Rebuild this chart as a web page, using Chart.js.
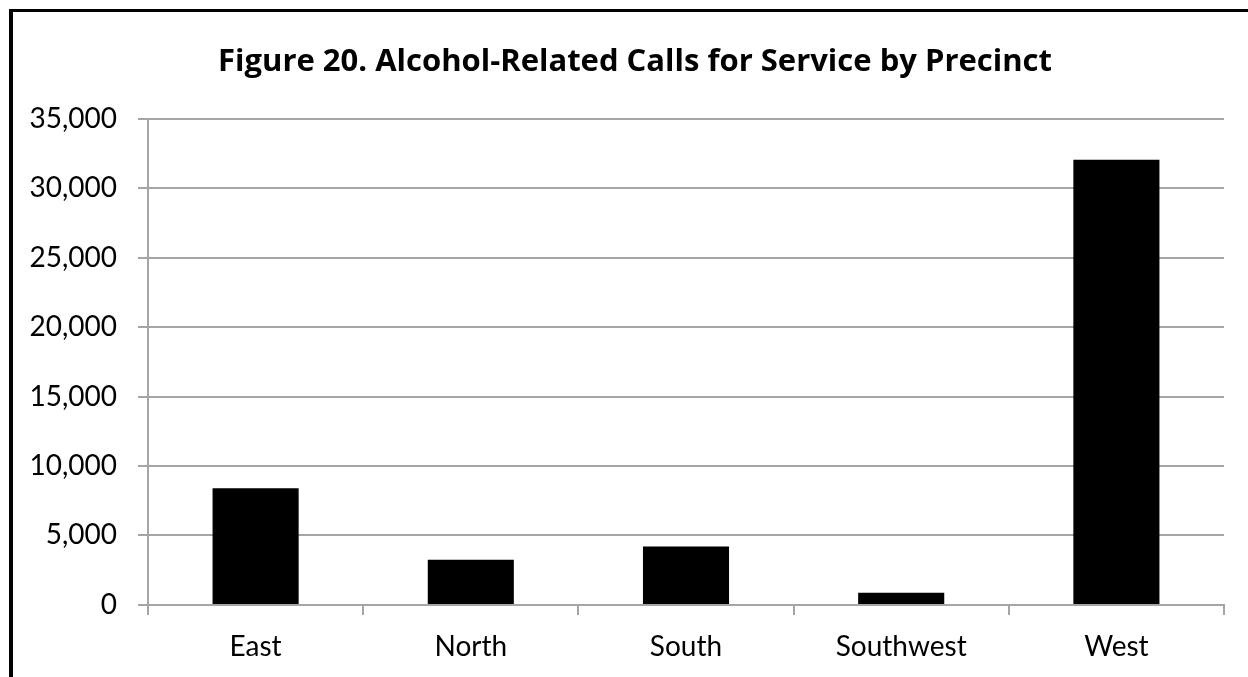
<!DOCTYPE html>
<html>
<head>
<meta charset="utf-8">
<script src="https://cdn.jsdelivr.net/npm/chart.js@4"></script>
<style>
  html, body { margin: 0; padding: 0; background: #fff; overflow: hidden; }
  #wrap { position: relative; width: 1248px; height: 677px; overflow: hidden; }
  #frame {
    position: absolute; left: 9px; top: 9px; width: 1400px; height: 800px;
    border-left: 4px solid #000; border-top: 3px solid #000;
    pointer-events: none;
  }
  canvas { position: absolute; left: 0; top: 0; }
</style>
</head>
<body>
<div id="wrap">
  <canvas id="chart" width="1248" height="700"></canvas>
  <div id="frame"></div>
</div>
<script>
const title = 'Figure 20. Alcohol-Related Calls for Service by Precinct';
const precincts = ['East', 'North', 'South', 'Southwest', 'West'];
const calls = [8400, 3250, 4200, 880, 32050];
const yMin = 0;
const yMax = 35000;
const yStep = 5000;

const gridGray = '#a5a5a5';

// the title sits centred over the framed box, not over the whole canvas
const shiftTitle = {
  id: 'shiftTitle',
  afterLayout(chart) {
    if (chart.titleBlock) chart.titleBlock.left = 46;
  }
};

new Chart(document.getElementById('chart'), {
  type: 'bar',
  data: {
    labels: precincts,
    datasets: [{
      label: 'Calls',
      data: calls,
      backgroundColor: '#000',
      borderWidth: 0,
      barPercentage: 0.5,
      categoryPercentage: 0.8
    }]
  },
  plugins: [shiftTitle],
  options: {
    responsive: false,
    animation: false,
    locale: 'en-US',
    layout: { padding: { left: 10, right: 24, top: 0, bottom: 21.5 } },
    scales: {
      x: {
        grid: {
          display: true,
          drawOnChartArea: false,
          drawTicks: true,
          tickLength: 10,
          color: gridGray,
          lineWidth: 2
        },
        border: { display: true, color: gridGray, width: 2 },
        ticks: {
          color: '#000',
          padding: 15,
          font: { family: 'Lato', size: 28 }
        }
      },
      y: {
        min: yMin,
        max: yMax,
        afterFit(scale) { scale.width = 138; },
        grid: {
          color: gridGray,
          lineWidth: 2,
          drawTicks: true,
          tickLength: 10
        },
        border: { display: true, color: gridGray, width: 2 },
        ticks: {
          stepSize: yStep,
          color: '#000',
          padding: 21,
          font: { family: 'Lato', size: 28 },
          callback: v => v.toLocaleString('en-US')
        }
      }
    },
    plugins: {
      legend: { display: false },
      tooltip: { enabled: false },
      title: {
        display: true,
        text: title,
        color: '#000',
        font: { family: 'Open Sans', size: 31, weight: 'bold' },
        padding: { top: 44, bottom: 37.6 }
      }
    }
  }
});
</script>
</body>
</html>
